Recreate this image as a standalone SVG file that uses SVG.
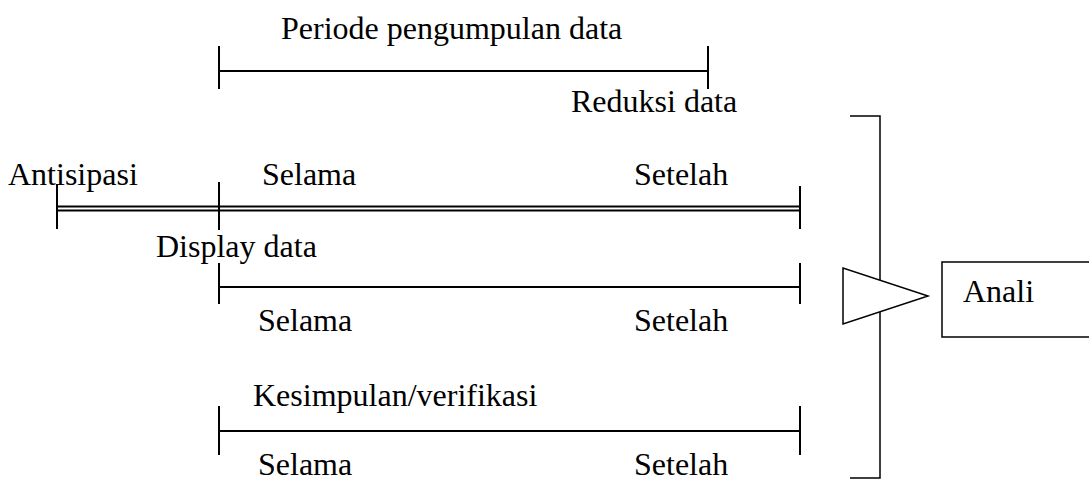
<svg xmlns="http://www.w3.org/2000/svg" width="1089" height="483" viewBox="0 0 1089 483">
<style>
text{font-family:"Liberation Serif","Times New Roman",serif;font-size:32px;fill:#000}
.ln{stroke:#000;stroke-width:2;fill:none}
.thin{stroke:#000;stroke-width:1.5;fill:none}
</style>
<rect width="1089" height="483" fill="#fff"/>
<g id="connectors">
<g id="periode-line">
<line class="ln" x1="219" y1="71" x2="708" y2="71"/>
<line class="ln" x1="219" y1="46" x2="219" y2="89"/>
<line class="ln" x1="708" y1="46" x2="708" y2="89"/>
</g>
<g id="reduksi-line">
<line class="ln" x1="57" y1="206.5" x2="800" y2="206.5"/>
<line class="ln" x1="57" y1="210.5" x2="800" y2="210.5"/>
<line class="ln" x1="57" y1="184" x2="57" y2="229"/>
<line class="ln" x1="219" y1="182" x2="219" y2="230"/>
<line class="ln" x1="800" y1="186" x2="800" y2="229"/>
</g>
<g id="display-line">
<line class="ln" x1="219" y1="287" x2="800" y2="287"/>
<line class="ln" x1="219" y1="263" x2="219" y2="304"/>
<line class="ln" x1="800" y1="263" x2="800" y2="304"/>
</g>
<g id="kesimpulan-line">
<line class="ln" x1="219" y1="431" x2="800" y2="431"/>
<line class="ln" x1="219" y1="406" x2="219" y2="455"/>
<line class="ln" x1="800" y1="406" x2="800" y2="455"/>
</g>
<g id="bracket">
<polyline class="thin" points="850,116 880,116 880,478 850,478"/>
</g>
</g>
<g id="arrow">
<polygon points="843,268 843,324 928,296" fill="#fff" stroke="#000" stroke-width="1.5"/>
</g>
<g id="analisis">
<rect x="942" y="262" width="160" height="75" fill="#fff" stroke="#000" stroke-width="1.5"/>
<text x="963" y="302">Anali</text>
</g>
<g id="labels">
<text x="281" y="39">Periode pengumpulan data</text>
<text x="571" y="112">Reduksi data</text>
<text x="8" y="185">Antisipasi</text>
<text x="262" y="185">Selama</text>
<text x="634" y="185">Setelah</text>
<text x="156" y="257">Display data</text>
<text x="258" y="331">Selama</text>
<text x="634" y="331">Setelah</text>
<text x="253" y="406">Kesimpulan/verifikasi</text>
<text x="258" y="475">Selama</text>
<text x="634" y="475">Setelah</text>
</g>
</svg>
